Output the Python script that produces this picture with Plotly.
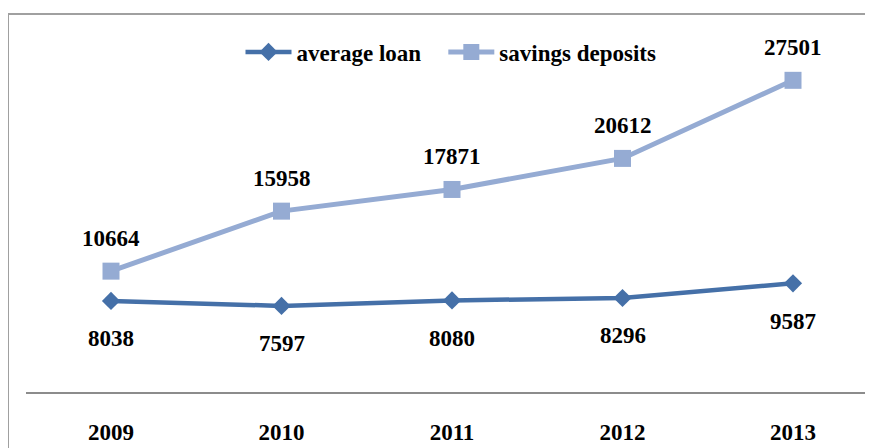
import plotly.graph_objects as go

years = ["2009", "2010", "2011", "2012", "2013"]
average_loan = [8038, 7597, 8080, 8296, 9587]
savings_deposits = [10664, 15958, 17871, 20612, 27501]

FONT = "Liberation Serif, Times New Roman, serif"
loan_color = "#4570A8"
sav_color = "#95ABD3"
OFF = 8  # page body margin offset

fig = go.Figure()
fig.add_trace(go.Scatter(
    x=years, y=average_loan, name="average loan\u00a0\u00a0\u00a0", mode="lines+markers",
    line=dict(color=loan_color, width=4.5),
    marker=dict(symbol="diamond", size=14, color=loan_color),
))
fig.add_trace(go.Scatter(
    x=years, y=savings_deposits, name="savings deposits", mode="lines+markers",
    line=dict(color=sav_color, width=5),
    marker=dict(symbol="square", size=17, color=sav_color),
))

lab_font = dict(family=FONT, size=23, color="black", weight="bold")
ann = []
for i, v in enumerate(average_loan):
    ann.append(dict(x=i, y=v, xref="x", yref="y", text="<b>%d</b>" % v, showarrow=False,
                    yshift=-38, font=dict(family=FONT, size=23, color="black")))
for i, v in enumerate(savings_deposits):
    ann.append(dict(x=i, y=v, xref="x", yref="y", text="<b>%d</b>" % v, showarrow=False,
                    yshift=33, font=dict(family=FONT, size=23, color="black")))

W, H = 873, 448
L, R, T, B = 26 - OFF, 0, 52 - OFF, 56 + OFF
pw, ph = W - L - R, H - T - B
right_px = 26 + pw  # in reference pixel coordinates

fig.update_layout(
    width=W, height=H,
    margin=dict(l=L, r=R, t=T, b=B, pad=0, autoexpand=False),
    paper_bgcolor="white", plot_bgcolor="white",
    showlegend=True,
    legend=dict(orientation="h", x=(451 - 26) / pw, y=1.0, xanchor="center", yanchor="middle",
                font=lab_font, bgcolor="rgba(0,0,0,0)", itemwidth=46),
    annotations=ann,
    shapes=[dict(type="rect", xref="paper", yref="paper",
                 x0=(8 - 26) / pw, x1=1.05, y0=-0.3, y1=(392 - 14) / ph,
                 line=dict(color="#A0A0A0", width=2), fillcolor="rgba(0,0,0,0)", layer="below")],
)

fig.update_xaxes(
    type="category", range=[-(111 - 26) / 170.5, 4 + (right_px - 793) / 170.5],
    showline=True, linecolor="#8C8C8C", linewidth=2,
    showgrid=False, zeroline=False, ticks="",
    tickfont=lab_font,
    ticklabelstandoff=18,
)
fig.update_yaxes(range=[0, 30000], showticklabels=False, showline=False, ticks="",
                 showgrid=False, zeroline=False)

fig.write_html("out.html")
